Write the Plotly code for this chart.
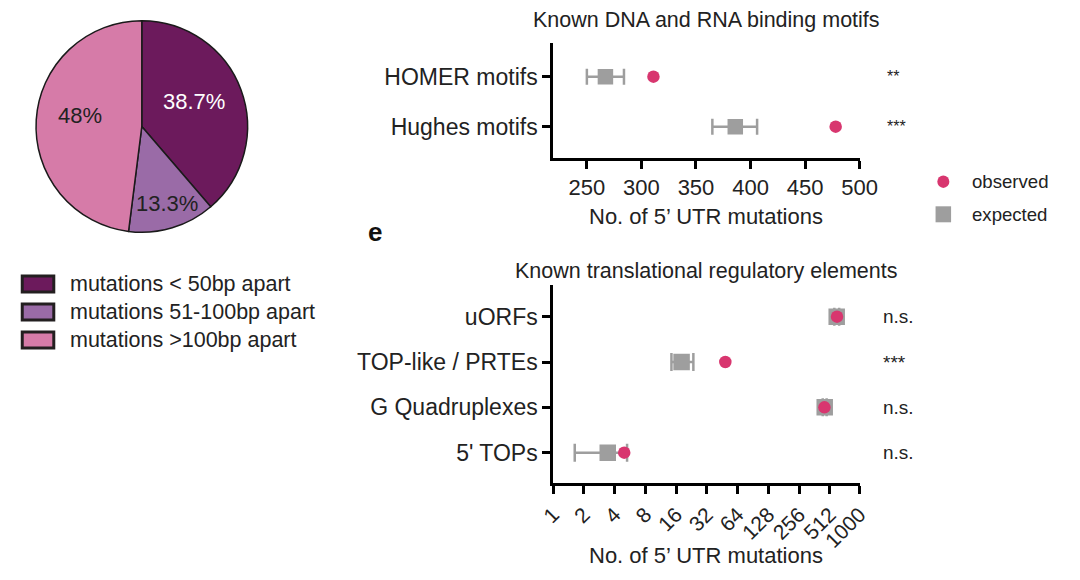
import plotly.graph_objects as go
import math

# ---------------- data ----------------
pie_labels = ["mutations < 50bp apart", "mutations 51-100bp apart", "mutations >100bp apart"]
pie_values = [38.7, 13.3, 48]
pie_colors = ["#6C1A5C", "#9A6BA7", "#D67BA8"]

motif_categories = ["HOMER motifs", "Hughes motifs"]
motif_observed = [311, 478]
motif_expected = [267, 386]
motif_err_low = [250, 365]
motif_err_high = [284, 406]
motif_signif = ["**", "***"]

element_categories = ["uORFs", "TOP-like / PRTEs", "G Quadruplexes", "5' TOPs"]
element_observed = [600, 48.5, 452, 4.97]
element_expected = [596, 18.1, 455, 3.43]
element_err_low = [565, 14.4, 435, 1.63]
element_err_high = [630, 23.6, 475, 5.3]
element_signif = ["n.s.", "***", "n.s.", "n.s."]

motif_ticks = [250, 300, 350, 400, 450, 500]
element_ticks = [1, 2, 4, 8, 16, 32, 64, 128, 256, 512, 1000]

FONT = "Liberation Sans, Arial, Helvetica, sans-serif"
TXT = "#222222"
OBS = "#D8366F"
EXP = "#9E9E9E"
W, H = 1080, 580


def px(x):
    return x / W


def py(y):
    return 1 - y / H


def note(x, y, text, size, color=TXT, xanchor="center", yref="paper", yv=None):
    return dict(x=px(x), y=py(y) if yv is None else yv, xref="paper", yref=yref,
                showarrow=False, xanchor=xanchor, yanchor="middle", text=text,
                font=dict(size=size, color=color, family=FONT))


fig = go.Figure()

# ---------------- pie ----------------
fig.add_trace(go.Pie(
    values=pie_values, labels=pie_labels, sort=False, direction="clockwise", rotation=0,
    marker=dict(colors=pie_colors, line=dict(color="#1a1a1a", width=1.5)),
    textinfo="none", hoverinfo="label+percent", showlegend=False,
    domain=dict(x=[px(22.7), px(240.7)], y=[py(236), py(17)]),
))

annotations = []
pie_text_pos = [(185, 101.7, "white"), (158, 203, TXT), (68, 115, TXT)]
for v, (x, y, c) in zip(pie_values, pie_text_pos):
    annotations.append(note(x, y, f"{v:g}%", 22, c))

# pie legend (swatches + text)
shapes = []
for i, (lab, col) in enumerate(zip(pie_labels, pie_colors)):
    yc = 284 + i * 28
    shapes.append(dict(type="rect", xref="paper", yref="paper",
                       x0=px(8.5), x1=px(41), y0=py(yc - 8), y1=py(yc + 8),
                       fillcolor=col, line=dict(color="#231F20", width=3)))
    annotations.append(note(56, yc, lab, 21.5, xanchor="left"))

# ---------------- top panel ----------------
motif_y = list(range(len(motif_categories) - 1, -1, -1))
fig.add_trace(go.Scatter(
    x=motif_expected, y=motif_y, mode="markers", xaxis="x", yaxis="y",
    marker=dict(symbol="square", size=15.5, color=EXP),
    error_x=dict(type="data", symmetric=False,
                 array=[h - e for h, e in zip(motif_err_high, motif_expected)],
                 arrayminus=[e - l for l, e in zip(motif_err_low, motif_expected)],
                 color=EXP, thickness=2.5, width=8),
    name="expected", showlegend=False))
fig.add_trace(go.Scatter(
    x=motif_observed, y=motif_y, mode="markers", xaxis="x", yaxis="y",
    marker=dict(symbol="circle", size=12.5, color=OBS), name="observed", showlegend=False))

# ---------------- bottom panel ----------------
element_y = list(range(len(element_categories) - 1, -1, -1))
fig.add_trace(go.Scatter(
    x=element_expected, y=element_y, mode="markers", xaxis="x2", yaxis="y2",
    marker=dict(symbol="square", size=16.5, color=EXP),
    error_x=dict(type="data", symmetric=False,
                 array=[h - e for h, e in zip(element_err_high, element_expected)],
                 arrayminus=[e - l for l, e in zip(element_err_low, element_expected)],
                 color=EXP, thickness=2.5, width=9),
    name="expected", showlegend=False))
fig.add_trace(go.Scatter(
    x=element_observed, y=element_y, mode="markers", xaxis="x2", yaxis="y2",
    marker=dict(symbol="circle", size=12.5, color=OBS), name="observed", showlegend=False))

# significance labels
for s, y in zip(motif_signif, motif_y):
    annotations.append(note(898, 0, s, 16, xanchor="left", yref="y", yv=y))
for s, y in zip(element_signif, element_y):
    annotations.append(note(893, 0, s, 19, xanchor="left", yref="y2", yv=y))

# observed / expected legend
shapes.append(dict(type="circle", xref="paper", yref="paper",
                   x0=px(957.7 - 6.2), x1=px(957.7 + 6.2), y0=py(181.7 + 6.2), y1=py(181.7 - 6.2),
                   fillcolor=OBS, line=dict(width=0)))
shapes.append(dict(type="rect", xref="paper", yref="paper",
                   x0=px(957.7 - 8), x1=px(957.7 + 8), y0=py(214.3 + 8), y1=py(214.3 - 8),
                   fillcolor=EXP, line=dict(width=0)))
annotations.append(note(985, 181.7, "observed", 18.6, xanchor="left"))
annotations.append(note(985, 214.3, "expected", 18.6, xanchor="left"))

# titles
annotations += [
    note(713.5, 20, "Known DNA and RNA binding motifs", 21.5),
    note(713.5, 216.7, "No. of 5\u2019 UTR mutations", 22),
    note(713.5, 271, "Known translational regulatory elements", 21.5),
    note(713.5, 555, "No. of 5\u2019 UTR mutations", 22),
    note(372.3, 231.7, "<b>e</b>", 26, color="#111111"),
]

axis_common = dict(showline=True, linecolor="black", linewidth=2.5, ticks="outside",
                   ticklen=8, tickwidth=2.5, tickcolor="black", showgrid=False, zeroline=False,
                   tickfont=dict(size=22, color=TXT, family=FONT))
cat_font = dict(size=23, color=TXT, family=FONT)

fig.update_layout(
    width=W, height=H, margin=dict(l=0, r=0, t=0, b=0),
    paper_bgcolor="white", plot_bgcolor="white",
    font=dict(family=FONT, color=TXT),
    showlegend=False,
    xaxis=dict(domain=[px(555.5), px(871.5)], anchor="y", range=[219, 500],
               tickvals=motif_ticks, **axis_common),
    yaxis=dict(domain=[py(158.3), py(42.7)], anchor="x", range=[-0.632, 1.68],
               tickvals=motif_y, ticktext=motif_categories,
               **{**axis_common, "tickfont": cat_font}),
    xaxis2=dict(domain=[px(555.5), px(871.5)], anchor="y2", type="log",
                range=[0, math.log10(1000)], tickvals=element_ticks,
                ticktext=[str(t) for t in element_ticks], tickangle=-45,
                **{**axis_common, "tickfont": dict(size=21, color=TXT, family=FONT)}),
    yaxis2=dict(domain=[py(483.3), py(285)], anchor="x2", range=[-0.675, 3.699],
                tickvals=element_y, ticktext=element_categories,
                **{**axis_common, "tickfont": cat_font}),
    annotations=annotations, shapes=shapes,
)

fig.write_html("out.html", config={"displayModeBar": False},
               post_script="document.body.style.margin='0px';")
